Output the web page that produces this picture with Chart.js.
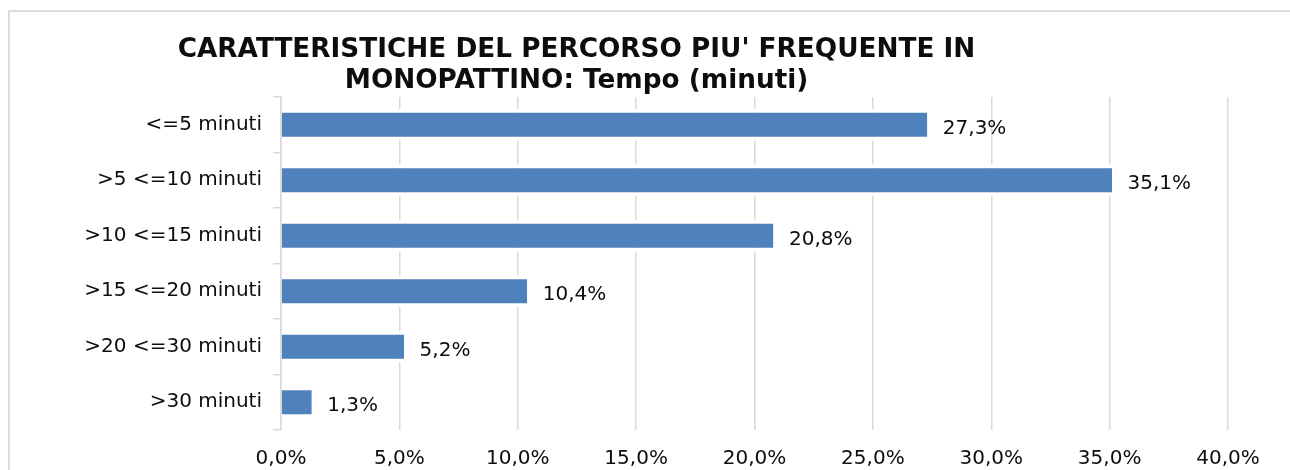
<!DOCTYPE html>
<html>
<head>
<meta charset="utf-8">
<title>Percorso in monopattino - tempo</title>
<script src="https://cdn.jsdelivr.net/npm/chart.js@4/dist/chart.umd.min.js"></script>
<style>
    html, body { margin: 0; padding: 0; background: #fff; overflow: hidden; width: 1290px; height: 470px; }
    .edge { position: absolute; background: #dedede; }
    .edge.top { left: 8px; top: 10px; width: 1282px; height: 2px; }
    .edge.left { left: 8px; top: 10px; width: 2px; height: 460px; }
    #chart { position: absolute; left: 0; top: 0; }
</style>
</head>
<body>
<div class="edge top"></div>
<div class="edge left"></div>
<canvas id="chart" width="1290" height="470"></canvas>
<script>
const titleLines = ["CARATTERISTICHE DEL PERCORSO PIU' FREQUENTE IN", "MONOPATTINO: Tempo (minuti)"];
const categories = ["<=5 minuti", ">5 <=10 minuti", ">10 <=15 minuti", ">15 <=20 minuti", ">20 <=30 minuti", ">30 minuti"];
const percentages = [27.3, 35.1, 20.8, 10.4, 5.2, 1.3];
const axisMax = 40;
const axisStep = 5;

const FONT = "'DejaVu Sans', Verdana, sans-serif";
const TEXT = "#0d0d0d";
const GRID = "#d9d9d9";

// "27,3%" style, comma as decimal separator
const fmtPct = v => v.toFixed(1).replace('.', ',') + '%';

// two-line title, centred over the left part of the frame
const titlePlugin = {
    id: 'titleLines',
    afterDraw(chart) {
        const ctx = chart.ctx;
        ctx.save();
        ctx.font = "bold 26.3px " + FONT;
        ctx.fillStyle = TEXT;
        ctx.textAlign = 'center';
        ctx.textBaseline = 'alphabetic';
        ctx.fillText(titleLines[0], 576.5, 56.5);
        ctx.fillText(titleLines[1], 576.5, 87.5);
        ctx.restore();
    }
};

// value labels to the right of each bar
const valueLabels = {
    id: 'valueLabels',
    afterDatasetsDraw(chart) {
        const ctx = chart.ctx;
        const meta = chart.getDatasetMeta(0);
        ctx.save();
        ctx.font = "20px " + FONT;
        ctx.fillStyle = TEXT;
        ctx.textAlign = 'left';
        ctx.textBaseline = 'alphabetic';
        meta.data.forEach((bar, i) => {
            ctx.fillText(fmtPct(percentages[i]), bar.x + 15.5, bar.y + 9);
        });
        ctx.restore();
    }
};

new Chart(document.getElementById('chart'), {
    type: 'bar',
    data: {
        labels: categories,
        datasets: [{
            data: percentages,
            backgroundColor: '#4f81bd',
            borderColor: '#ffffff',
            borderWidth: { top: 4, bottom: 4, left: 0, right: 0 },
            borderSkipped: false,
            categoryPercentage: 1,
            barPercentage: 0.577
        }]
    },
    options: {
        indexAxis: 'y',
        responsive: false,
        animation: false,
        layout: { padding: { top: 97, right: 62, left: 0, bottom: 0 } },
        plugins: {
            legend: { display: false },
            title: { display: false },
            tooltip: { enabled: false }
        },
        scales: {
            x: {
                min: 0,
                max: axisMax,
                ticks: {
                    stepSize: axisStep,
                    padding: 17,
                    color: TEXT,
                    font: { family: FONT, size: 20 },
                    maxRotation: 0,
                    callback: v => fmtPct(v)
                },
                grid: { color: GRID, lineWidth: 1.5, drawTicks: false },
                border: { display: false },
                afterFit: s => { s.height = 40; }
            },
            y: {
                ticks: {
                    padding: 11,
                    color: TEXT,
                    font: { family: FONT, size: 20 }
                },
                grid: {
                    color: GRID,
                    lineWidth: 1.5,
                    drawOnChartArea: false,
                    drawTicks: true,
                    tickLength: 8
                },
                border: { display: true, color: GRID, width: 1.5 },
                afterFit: s => { s.width = 281; }
            }
        }
    },
    plugins: [titlePlugin, valueLabels]
});
</script>
</body>
</html>
